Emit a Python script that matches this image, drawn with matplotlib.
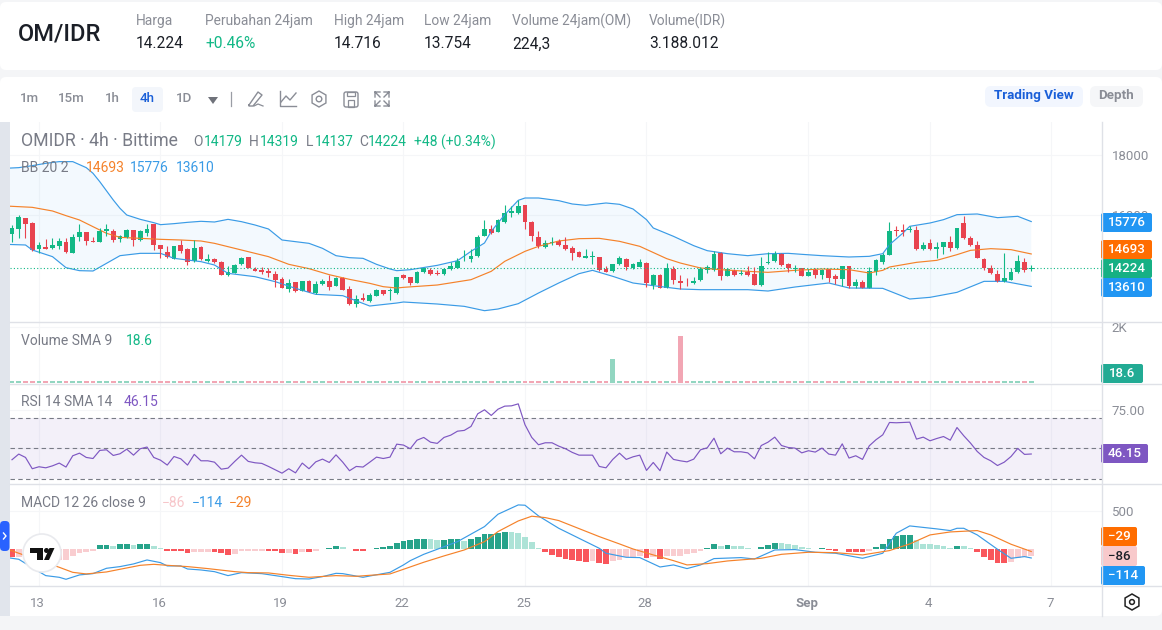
import matplotlib
matplotlib.use("Agg")
import matplotlib.pyplot as plt
from matplotlib.patches import Rectangle, FancyBboxPatch, Circle, Polygon, RegularPolygon
from matplotlib.transforms import ScaledTranslation

plt.rcParams['font.family'] = ['Roboto', 'DejaVu Sans']

# ---- candles (IDR) ----
opens = [15360,15539,15895,15728,14859,14926,14904,14948,15093,14725,15260,15427,15115,15104,15449,15472,15193,15271,15483,15160,
 15394,15694,14982,14759,14536,14982,14859,14458,14926,14458,14514,14436,13990,14068,14347,14580,14202,14146,14124,14023,
 13856,13522,13745,13467,13801,13400,13678,13790,13634,13901,13522,13010,13221,13132,13288,13478,13455,13377,14001,13923,
 13734,14079,14146,14046,14012,14179,14235,14447,14536,14614,15305,15527,15416,15772,16062,16051,16318,15772,15271,14937,
 15048,15137,15004,14892,14770,14569,14603,14592,14202,14113,14347,14536,14224,14269,14402,13645,13990,13544,14191,13801,
 13734,13712,13812,14146,14168,14714,13968,14168,14035,14090,14012,13645,14391,14447,14692,14369,14191,14224,13968,14146,
 13990,14179,13968,13868,14291,13611,13756,13556,14101,14436,14670,15483,15505,15494,15505,14870,15071,14848,14915,15082,
 14892,15739,15238,15004,14536,14213,14035,13745,13834,14101,14436,14179]
highs = [15661,15995,15906,15750,15104,15193,15238,15215,15215,15349,15683,15427,15271,15550,15694,15516,15327,15516,15494,15483,
 15683,15706,14993,14970,14970,15149,14881,15171,14948,14681,14569,14458,14280,14358,14592,14592,14269,14257,14213,14135,
 13934,13856,13767,13790,13812,13790,13845,13990,13923,13923,13611,13322,13377,13388,13511,13500,13567,13934,14023,13934,
 14135,14235,14213,14146,14213,14413,14558,14814,14859,15338,15839,15672,15873,16341,16307,16485,16329,15784,15472,15149,
 15260,15193,15260,14970,14803,14848,14781,14603,14302,14369,14636,14569,14391,14525,14413,14035,14012,14391,14280,14001,
 13879,13923,14257,14324,14803,14748,14213,14191,14146,14280,14246,14592,14759,14781,14714,14391,14324,14235,14191,14224,
 14191,14191,14012,14302,14302,13868,13812,14246,14536,14725,15750,15617,15706,15617,15617,15104,15193,15104,15104,15305,
 15572,15973,15305,15126,14569,14324,14146,14725,14224,14658,14547,14319]
lows = [15104,15215,15238,14792,14714,14859,14859,14859,14736,14725,15126,14993,15082,15104,15293,15104,15104,15238,14970,15137,
 15305,14826,14547,14547,14525,14725,14324,14436,14503,14436,14380,13990,13968,14057,14324,14213,14124,14012,13934,13578,
 13545,13411,13433,13455,13411,13366,13656,13500,13611,13478,12976,12921,13121,13077,13277,13322,13166,13366,13868,13667,
 13723,14068,14001,14001,14001,14168,14224,14447,14413,14603,15282,15371,15416,15717,15928,16040,15539,15137,14904,14904,
 15004,14970,14837,14503,14580,14547,14358,14135,14079,14101,14324,14168,14191,14257,13589,13533,13544,13544,13689,13533,
 13611,13689,13801,14057,14113,13812,13946,13968,13979,13968,13656,13634,14369,14425,14302,14101,14101,13946,13946,13879,
 13856,13767,13678,13634,13544,13567,13544,13556,14001,14347,14658,15282,15305,15416,14837,14837,14837,14547,14681,14792,
 14859,15204,14970,14547,14146,14035,13745,13745,13834,14057,14079,14137]
closes = [15561,15940,15694,14837,14993,14859,14993,15126,14759,15260,15427,15137,15093,15461,15527,15160,15293,15483,15160,15461,
 15527,15004,14859,14592,14959,14792,14425,14881,14525,14514,14413,14001,14079,14324,14547,14235,14135,14090,14046,13812,
 13556,13734,13455,13778,13422,13678,13790,13600,13879,13500,13021,13177,13143,13322,13478,13355,13478,13923,13879,13723,
 14101,14213,14012,14012,14191,14291,14458,14469,14625,15271,15527,15383,15839,16062,16129,16307,15750,15293,14959,15071,
 15104,14982,14848,14736,14603,14625,14625,14146,14101,14358,14547,14257,14358,14413,13734,14001,13544,14235,13834,13723,
 13712,13801,14179,14246,14703,13946,14191,14001,14068,13979,13667,14291,14436,14681,14313,14213,14224,13968,14101,14001,
 14146,13901,13868,14291,13634,13767,13556,14124,14480,14658,15472,15449,15438,15527,14848,15004,14848,14926,15082,14904,
 15572,15215,14982,14547,14213,14046,13745,13901,14101,14469,14168,14224]

# ---- Bollinger bands ----
upper_i = [-1,1,3,5,7,9,11,12,13,15,16,17,19,21,22,24,26,28,30,32,34,36,38,40,42,44,46,48,50,52,54,56,57,59,63,66,68,70,71,73,75,76,78,81,83,85,88,90,92,94,95,98,101,103,106,109,112,115,117,120,124,127,129,130,132,133,136,138,140,143,146,149,151]
upper_v = [17555,17577,17644,17722,17778,17778,17577,17388,17109,16497,16218,15995,15850,15739,15672,15706,15750,15784,15761,15850,15772,15661,15527,15160,15104,15048,14881,14636,14569,14547,14347,14191,14135,14168,14313,14469,14781,15060,15449,16006,16485,16563,16563,16474,16363,16318,16396,16352,16196,15839,15561,15282,14970,14803,14703,14636,14703,14714,14681,14636,14592,14614,14703,15004,15394,15617,15728,15839,16006,16029,15906,15951,15776]
mid_i = [-1,3,6,8,10,12,14,16,19,22,25,28,30,33,36,38,41,44,47,50,53,55,57,58,63,68,71,73,76,78,81,84,87,90,93,97,99,102,105,109,112,116,120,124,127,129,130,134,137,140,142,145,148,151]
mid_v = [16296,16251,16129,15973,15828,15605,15383,15249,15215,15182,15160,15126,15048,14881,14714,14603,14347,14202,14001,13845,13712,13600,13556,13578,13656,13834,14113,14447,14781,14948,15126,15204,15215,15115,14948,14536,14391,14224,14168,14113,14079,14146,14191,14168,14057,14146,14257,14413,14480,14670,14814,14870,14837,14693]
lower_i = [-1,2,3,6,8,10,12,14,16,19,22,24,28,30,32,36,39,42,45,49,53,57,58,63,67,70,72,75,78,81,84,86,89,92,95,99,102,109,112,116,121,124,129,133,136,140,144,147,151]
lower_v = [15015,14993,14826,14603,14235,14135,14124,14380,14636,14714,14714,14547,14436,14324,14046,13934,13767,13545,13344,13299,12954,13054,13088,13021,12943,12798,12854,13032,13388,13723,14035,14146,13946,13723,13634,13522,13500,13500,13455,13589,13723,13556,13544,13188,13244,13411,13778,13778,13610]

# ---- volume ----
volumes = [22,18,25,20,16,21,19,24,17,23,20,18,26,19,22,21,17,24,20,18,23,25,19,16,22,20,21,18,24,19,17,23,20,22,18,21,25,19,16,24,
 22,20,18,23,21,17,19,24,20,22,18,25,21,16,23,19,20,22,24,17,21,18,23,20,25,19,22,16,24,21,18,20,23,19,22,17,25,21,18,24,
 20,16,22,19,23,21,18,24,20,860,22,17,25,19,21,18,23,20,16,1680,22,19,24,21,18,23,20,17,25,22,19,21,16,24,20,18,23,22,19,21,
 17,25,20,18,24,22,16,21,23,19,20,18,25,22,17,24,21,19,23,20,18,16,22,24,21,19,20,23,18,22,17,19]

# ---- RSI ----
rsi = [42.4,46.1,43.9,36.5,37.8,37.1,38.4,40.2,37.6,45.0,46.7,43.9,43.2,48.5,48.9,45.2,46.3,49.3,45.4,49.6,
 50.7,43.9,42.1,38.9,44.5,43.0,38.9,45.9,41.7,41.7,40.8,36.2,36.9,41.3,45.4,41.3,40.4,40.0,38.0,35.8,
 33.6,36.5,33.8,40.2,36.5,41.0,42.8,40.6,45.6,40.8,35.2,38.0,37.6,40.8,44.1,43.2,44.1,52.6,52.0,49.6,
 55.2,57.0,53.9,53.1,57.0,58.5,61.1,61.6,64.2,72.5,75.1,71.4,75.5,77.5,77.7,79.0,65.3,57.0,52.2,53.5,
 53.5,51.3,49.6,47.2,45.4,45.4,45.4,38.0,37.1,42.6,46.7,42.6,44.3,45.4,35.4,40.6,35.2,47.4,42.6,41.7,
 41.0,42.8,48.9,50.2,56.5,46.3,50.0,47.6,47.6,46.9,43.0,51.7,53.9,57.2,51.7,50.4,50.0,46.9,48.3,47.4,
 50.0,46.1,45.4,52.8,43.5,45.0,42.6,51.5,55.5,58.7,66.8,66.6,66.8,67.0,55.9,57.2,54.8,56.3,57.6,55.2,
 63.5,58.1,53.3,47.8,43.9,41.7,38.6,40.8,44.5,49.8,45.9,46.15]

# ---- MACD ----
macd_i = [-1,1,4,5,7,8,10,12,14,16,18,20,22,23,25,26,28,30,32,34,37,40,42,44,46,48,49,52,53,56,58,59,61,63,66,70,72,75,76,78,81,84,87,88,91,93,96,98,100,102,104,108,110,113,116,119,122,126,129,131,133,137,139,140,141,143,146,148,150,151]
macd_v = [-105,-131,-293,-345,-367,-393,-336,-319,-249,-227,-192,-140,-175,-218,-218,-258,-271,-293,-345,-306,-319,-358,-385,-389,-358,-315,-319,-367,-350,-302,-205,-149,-66,0,100,297,459,581,577,437,275,144,13,-52,-105,-109,-232,-205,-253,-205,-122,-109,-127,-9,-4,-39,-52,-118,-52,210,306,267,245,275,275,188,0,-118,-96,-114]
signal_i = [-1,1,7,9,11,14,16,19,21,23,26,29,33,35,38,41,44,48,51,53,56,58,61,64,67,70,72,75,77,79,81,84,87,90,92,95,98,100,103,106,111,114,118,122,126,130,133,136,139,143,145,148,151]
signal_v = [13,-52,-236,-302,-323,-297,-262,-210,-197,-210,-227,-253,-293,-306,-310,-341,-367,-345,-354,-341,-323,-262,-170,-87,-9,100,232,371,433,415,376,271,166,70,4,-74,-149,-205,-188,-153,-118,-66,-39,-44,-74,-17,70,188,227,245,188,66,-29]
hist = [-105,-96,-118,-140,-149,-150,-162,-140,-140,-87,-44,-31,-26,52,52,39,66,70,52,70,
 70,39,17,-17,-18,-20,-44,-31,-31,-31,-35,-52,-74,-57,-17,-17,-17,-17,-20,-22,
 -48,-48,-57,-31,-35,-17,9,22,44,31,9,-17,-20,9,17,35,48,87,105,122,
 131,135,131,127,128,129,135,114,135,162,201,201,218,227,225,218,166,100,22,-31,
 -74,-96,-127,-144,-149,-162,-149,-184,-192,-153,-140,-101,-96,-92,-109,-105,-122,-87,-87,-83,
 -66,-44,-17,13,70,44,57,44,39,17,2,31,57,83,79,70,57,31,17,4,
 17,-13,-17,4,-31,-39,-40,-17,31,70,135,179,188,190,122,74,66,52,39,22,
 44,39,17,-39,-96,-140,-175,-176,-162,-109,-101,-86]

date_pos = [4,22,40,58,76,94,118,136,154]
date_lab = ['13','16','19','22','25','28','Sep','4','7']

GREEN, RED = '#12b886', '#e8434f'
BLUE, ORANGE, PURPLE = '#3a9be6', '#f5822a', '#7e57c2'
GRID, SEP, AXTXT = '#f5f6f8', '#dfe1e7', '#8a8d96'

W, H = 1162, 630
fig = plt.figure(figsize=(W/100, H/100), dpi=100, facecolor='#f4f5f7')

def full_ax(z):
    a = fig.add_axes([0, 0, 1, 1], zorder=z)
    a.set_xlim(0, W); a.set_ylim(H, 0); a.axis('off'); a.patch.set_alpha(0)
    return a

bg = full_ax(0)
bg.add_patch(FancyBboxPatch((0, 2), W, 68, boxstyle='round,pad=0,rounding_size=6', fc='white', ec='none'))
bg.add_patch(FancyBboxPatch((0, 77), W, 539, boxstyle='round,pad=0,rounding_size=6', fc='white', ec='none'))
bg.add_patch(Rectangle((0, 122), 10, 494, fc='#e1e5ec', ec='none'))

X0, X1 = 10, 1102
xmin, xmax = (X0-12)/6.75, (X1-12)/6.75

def pane(t, b, ylim, ticks, labels):
    a = fig.add_axes([X0/W, 1-b/H, (X1-X0)/W, (b-t)/H], zorder=1)
    a.patch.set_alpha(0)
    a.set_xlim(xmin, xmax); a.set_ylim(*ylim)
    for s in a.spines.values():
        s.set_visible(False)
    a.yaxis.tick_right()
    a.set_yticks(ticks, labels)
    a.tick_params(axis='y', length=0, pad=7, labelsize=9.5, labelcolor=AXTXT)
    a.set_xticks(date_pos, ['']*len(date_pos))
    a.tick_params(axis='x', length=0)
    a.grid(True, color=GRID, lw=0.8); a.set_axisbelow(True)
    return a

ax_p = pane(122, 322, (12420, 19102), [16000, 18000], ['16000', '18000'])
ax_v = pane(322, 383, (0, 2178), [2000], ['2K'])
ax_r = pane(384, 484, (26.5, 92.0), [50, 75], ['50.00', '75.00'])
ax_m = pane(484, 586, (-481, 855), [500], ['500'])
ax_m.set_xticks(date_pos, date_lab)
ax_m.tick_params(axis='x', length=0, pad=8, labelsize=9.5, labelcolor=AXTXT)
shift = ScaledTranslation(-1.2/100, 0, fig.dpi_scale_trans)
for lab, txt in zip(ax_m.get_xticklabels(), date_lab):
    lab.set_transform(lab.get_transform() + shift)
    if txt == 'Sep':
        lab.set_fontweight('bold')

# price pane
idx = list(range(len(closes)))
cols = [GREEN if c >= o else RED for o, c in zip(opens, closes)]
ax_p.fill(upper_i + lower_i[::-1], upper_v + lower_v[::-1], color='#2196f3', alpha=0.05, lw=0)
ax_p.plot(upper_i, upper_v, color=BLUE, lw=0.85)
ax_p.plot(lower_i, lower_v, color=BLUE, lw=0.85)
ax_p.plot(mid_i, mid_v, color=ORANGE, lw=0.85)
ax_p.axhline(closes[-1], color=GREEN, lw=0.8, ls=(0, (1, 2)))
ax_p.vlines(idx, lows, highs, color=cols, lw=0.8)
ax_p.bar(idx, [abs(c-o) for o, c in zip(opens, closes)], bottom=[min(o, c) for o, c in zip(opens, closes)],
         width=0.74, color=cols, lw=0)

# volume pane: the chart library draws every bar at least two pixels tall
vol_cols = ['#92d6c1' if c == GREEN else '#f2a6b4' for c in cols]
ax_v.bar(idx, [max(v, 72) for v in volumes], width=0.72, color=vol_cols, lw=0)

# rsi pane
ax_r.axhspan(30, 70, color=PURPLE, alpha=0.085, lw=0)
for lv in (30, 50, 70):
    ax_r.axhline(lv, color='#787b86', lw=0.8, ls=(0, (4, 3)))
ax_r.plot(idx, rsi, color=PURPLE, lw=0.85)

# macd pane
hcols = []
prev = 0
for h in hist:
    if h >= 0:
        hcols.append('#26a38a' if h >= prev else '#ade3d7')
    else:
        hcols.append('#f9565c' if h < prev else '#f9cdd0')
    prev = h
ax_m.bar(idx, hist, width=0.86, color=hcols, lw=0)
ax_m.plot(macd_i, macd_v, color=BLUE, lw=0.85)
ax_m.plot(signal_i, signal_v, color=ORANGE, lw=0.85)

# overlay: chrome and text
ov = full_ax(3)
def T(x, y, s, c='#787b86', fs=10, w='normal', ha='left'):
    ov.text(x, y, s, color=c, fontsize=fs, fontweight=w, ha=ha, va='center')

for y in (322, 383.5, 484, 586):
    ov.plot([X0, W], [y, y], color=SEP, lw=1)
ov.plot([X1, X1], [122, 616], color=SEP, lw=1)

# header
T(18, 34, 'OM/IDR', '#1b1f27', 17, 'medium')
heads = ['Harga', 'Perubahan 24jam', 'High 24jam', 'Low 24jam', 'Volume 24jam(OM)', 'Volume(IDR)']
vals = ['14.224', '+0.46%', '14.716', '13.754', '224,3', '3.188.012']
xs = [136, 205, 334, 424, 512, 649]
for x, h, v in zip(xs, heads, vals):
    T(x, 21, h, '#8a8d96', 9.9)
    T(x, 44, v, GREEN if v.startswith('+') else '#1b1f27', 11.2)

# toolbar
ov.add_patch(FancyBboxPatch((132, 87), 31, 25, boxstyle='round,pad=0,rounding_size=4', fc='#f3f6fb', ec='none'))
for x, s in zip((20, 58, 105, 140, 176), ('1m', '15m', '1h', '4h', '1D')):
    T(x, 98, s, '#1a5fd8' if s == '4h' else '#8a8d96', 9.6, 'medium')
ov.add_patch(Polygon([(208, 97), (218, 97), (213, 104)], fc='#6f727a', ec='none'))
ov.plot([231, 231], [92, 106], color='#9a9da5', lw=0.9)
IC = '#8a8d96'
ov.plot([249, 258, 262, 253, 249, 249], [105, 92, 95, 106, 106, 105], color=IC, lw=1)
ov.plot([254, 258, 263], [106, 104, 106], color=IC, lw=0.9)
ov.plot([280, 280, 296], [91, 106, 106], color=IC, lw=1)
ov.plot([281, 286, 290, 296], [102, 96, 100, 93], color=IC, lw=1)
ov.add_patch(RegularPolygon((319, 99), 6, radius=8, fc='none', ec=IC, lw=1))
ov.add_patch(Circle((319, 99), 2.8, fc='none', ec=IC, lw=1))
ov.add_patch(FancyBboxPatch((344, 92), 14, 15, boxstyle='round,pad=0,rounding_size=2', fc='none', ec=IC, lw=1))
ov.add_patch(Rectangle((347, 92), 8, 4, fc='none', ec=IC, lw=0.9))
ov.add_patch(Rectangle((348, 100), 6, 7, fc='none', ec=IC, lw=0.9))
for (ax0, ay0), dx, dy in (((375, 92), 1, 1), ((389, 92), -1, 1), ((375, 106), 1, -1), ((389, 106), -1, -1)):
    ov.plot([ax0+dx*5, ax0, ax0, None, ax0, ax0+dx*5], [ay0, ay0, ay0+dy*5, None, ay0, ay0+dy*5], color=IC, lw=1)

ov.add_patch(FancyBboxPatch((985, 86), 98, 21, boxstyle='round,pad=0,rounding_size=6', fc='#f2f6fe', ec='none'))
ov.add_patch(FancyBboxPatch((1090, 86), 53, 21, boxstyle='round,pad=0,rounding_size=6', fc='#f5f6f8', ec='none'))
T(1034, 95.5, 'Trading View', '#1a5fd8', 9.6, 'bold', 'center')
T(1116, 95.5, 'Depth', '#8a8d96', 9.6, 'bold', 'center')

# legends
T(21, 141, 'OMIDR · 4h · Bittime', '#787b86', 12.7)
for x, s, c in ((193, 'O', '#787b86'), (204, '14179', GREEN), (249, 'H', '#787b86'), (260, '14319', GREEN),
                (306, 'L', '#787b86'), (315, '14137', GREEN), (359, 'C', '#787b86'), (368, '14224', GREEN),
                (414, '+48 (+0.34%)', GREEN)):
    T(x, 142, s, c, 10)
T(21, 168, 'BB 20 2')
T(86, 168, '14693', ORANGE); T(130, 168, '15776', BLUE); T(176, 168, '13610', BLUE)
T(21, 341, 'Volume SMA 9'); T(126, 341, '18.6', GREEN)
T(21, 402, 'RSI 14 SMA 14'); T(124, 402, '46.15', PURPLE)
T(21, 503, 'MACD 12 26 close 9')
T(162, 503, '−86', '#f7c6ca'); T(192, 503, '−114', BLUE); T(229, 503, '−29', ORANGE)

# price-scale labels
def tag(t, b, r, s, fc, tc='white'):
    ov.add_patch(FancyBboxPatch((1101, t), r-1101, b-t, boxstyle='round,pad=0,rounding_size=2', fc=fc, ec='none'))
    T((1101+r)/2, (t+b)/2, s, tc, 9.6, 'medium', 'center')
tag(213, 232, 1152, '15776', '#2196f3')
tag(240, 259, 1152, '14693', '#ff6d00')
tag(278, 297, 1152, '13610', '#2196f3')
tag(259, 278, 1152, '14224', '#16b084')
tag(364, 383, 1143, '18.6', '#22ab94')
tag(444, 463, 1148, '46.15', PURPLE)
tag(527, 546, 1137, '−29', '#ff6d00')
tag(566, 585, 1145, '−114', '#2196f3')
tag(546, 566, 1137, '−86', '#f8c9cb', '#1b1f27')

# tradingview badge and side tab
ov.add_patch(Circle((42, 553), 19, fc='white', ec='#e9eaee', lw=1.2))
ov.add_patch(Polygon([(30, 548), (43, 548), (43, 560), (37, 560), (37, 553), (30, 553)], fc='#111', ec='none'))
ov.add_patch(Circle((46.5, 550.5), 2.5, fc='#111', ec='none'))
ov.add_patch(Polygon([(49.5, 548), (54.5, 548), (49, 560), (44, 560)], fc='#111', ec='none'))
ov.add_patch(FancyBboxPatch((0, 521), 9.5, 30, boxstyle='round,pad=0,rounding_size=4', fc='#2962ff', ec='none'))
ov.plot([3.5, 6, 3.5], [533, 536, 539], color='white', lw=1)

# settings icon
ov.add_patch(RegularPolygon((1132, 602), 6, radius=8, fc='none', ec='#222', lw=1.1))
ov.add_patch(Circle((1132, 602), 2.4, fc='none', ec='#222', lw=1.1))

fig.savefig('out.png', dpi=100, facecolor=fig.get_facecolor())
